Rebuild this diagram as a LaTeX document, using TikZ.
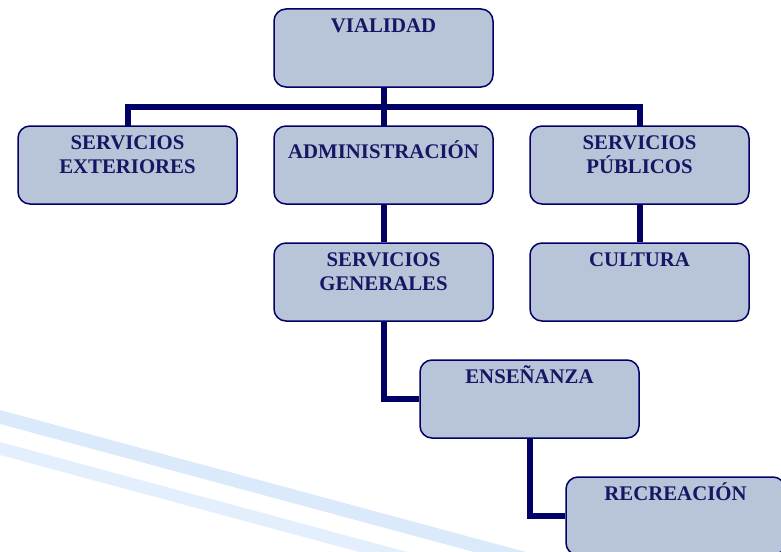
\documentclass[tikz,border=0pt]{standalone}
\usepackage{fontspec}
\setmainfont{Liberation Serif}
\usepackage{xcolor}
\usepackage{tikz}
\usetikzlibrary{positioning}

\definecolor{navyline}{RGB}{0,0,102}
\definecolor{navytext}{RGB}{22,22,100}
\definecolor{boxfill}{RGB}{184,196,215}
\definecolor{stripeA}{RGB}{219,234,251}
\definecolor{stripeB}{RGB}{227,239,252}

\tikzset{
  orgbox/.style={draw=navyline, line width=1.5pt, fill=boxfill, rounded corners=12pt,
    minimum width=219pt, minimum height=78pt, inner sep=0pt},
  lbl/.style={anchor=north, inner sep=0pt, align=center, text=navytext,
    font=\fontsize{20.8}{24}\selectfont\bfseries},
  link/.style={draw=navyline, line width=6pt}
}

\begin{document}
\begin{tikzpicture}[x=1pt, y=-1pt]
\useasboundingbox (0,0) rectangle (781,551);
\clip (0,0) rectangle (781,551);

\fill[stripeA] (0,410) -- (600,572) -- (600,586) -- (0,424) -- cycle;
\fill[stripeB] (0,442) -- (600,604) -- (600,617) -- (0,455) -- cycle;

\draw[link] (383.5,87) -- (383.5,126);
\draw[link] (127.5,126) -- (127.5,107) -- (639.5,107) -- (639.5,126);

\node(vialidad)[orgbox] at (383.5,48) {};
\node(exteriores)[orgbox] at (127.5,165) {};
\node(admin)[orgbox] at (383.5,165) {};
\node(publicos)[orgbox] at (639.5,165) {};
\node(generales)[orgbox] at (383.5,282) {};
\node(cultura)[orgbox] at (639.5,282) {};
\node(ensenanza)[orgbox] at (529.5,399) {};
\node(recreacion)[orgbox] at (675.5,516) {};

\node[lbl, below=10pt of vialidad.north] {VIALIDAD};
\node[lbl, below=10pt of exteriores.north] {SERVICIOS\\EXTERIORES};
\node[lbl, below=15pt of admin.north] {ADMINISTRACIÓN};
\node[lbl, below=10pt of publicos.north] {SERVICIOS\\PÚBLICOS};
\node[lbl, below=10pt of generales.north] {SERVICIOS\\GENERALES};
\node[lbl, below=10pt of cultura.north] {CULTURA};
\node[lbl, below=6pt of ensenanza.north] {ENSEÑANZA};
\node[lbl, below=6pt of recreacion.north] {RECREACIÓN};

\draw[link] (admin.south) -- (generales.north);
\draw[link] (publicos.south) -- (cultura.north);
\draw[link] (generales.south) |- (ensenanza.west);
\draw[link] (ensenanza.south) |- (recreacion.west);
\end{tikzpicture}
\end{document}
